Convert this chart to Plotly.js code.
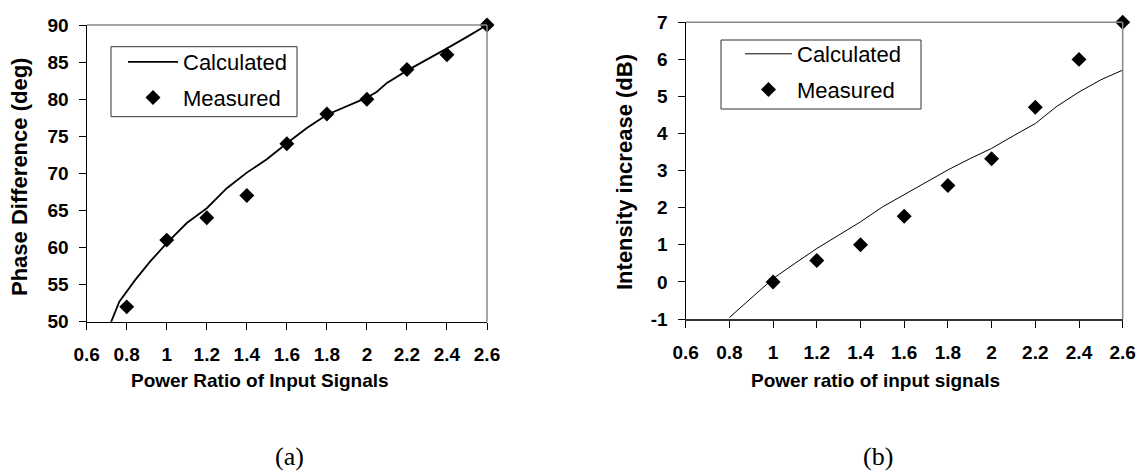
<!DOCTYPE html>
<html>
<head>
<meta charset="utf-8">
<script src="https://cdn.plot.ly/plotly-3.0.1.min.js"></script>
<style>html,body{margin:0;padding:0;background:#fff}#chart{width:1146px;height:473px}</style>
</head>
<body>
<div id="chart"></div>
<script>
// ---- data (a) ----
const calcA_x = [0.712, 0.763, 0.8415, 0.9165, 1.0, 1.1, 1.2, 1.3, 1.4, 1.5, 1.6, 1.7, 1.8, 1.9, 2.0, 2.05, 2.1, 2.2, 2.3, 2.4, 2.5, 2.6];
const calcA_y = [49.3, 52.7, 55.6, 58.1, 60.6, 63.3, 65.3, 68.0, 70.1, 71.9, 74.05, 76.1, 77.9, 79.0, 80.2, 81.0, 82.2, 83.85, 85.3, 86.85, 88.4, 90];
const measA_x = [0.8, 1.0, 1.2, 1.4, 1.6, 1.8, 2.0, 2.2, 2.4, 2.6];
const measA_y = [52, 61, 64, 67, 74, 78, 80, 84, 86, 90];
// ---- data (b) ----
const calcB_x = [0.8, 1.0, 1.1, 1.2, 1.3, 1.4, 1.5, 1.6, 1.7, 1.8, 1.9, 2.0, 2.1, 2.2, 2.3, 2.4, 2.5, 2.6];
const calcB_y = [-0.96, 0.09, 0.5, 0.9, 1.26, 1.62, 2.02, 2.36, 2.7, 3.02, 3.32, 3.6, 3.94, 4.27, 4.74, 5.12, 5.45, 5.71];
const measB_x = [1.0, 1.2, 1.4, 1.6, 1.8, 2.0, 2.2, 2.4, 2.6];
const measB_y = [0, 0.58, 1.0, 1.77, 2.6, 3.32, 4.71, 6.0, 7.0];
// ---- ticks ----
const xTickVals = [0.6, 0.8, 1.0, 1.2, 1.4, 1.6, 1.8, 2.0, 2.2, 2.4, 2.6];
const xTickText = ["0.6", "0.8", "1", "1.2", "1.4", "1.6", "1.8", "2", "2.2", "2.4", "2.6"];
const yTickValsA = [50, 55, 60, 65, 70, 75, 80, 85, 90];
const yTickTextA = ["50", "55", "60", "65", "70", "75", "80", "85", "90"];
const yTickValsB = [-1, 0, 1, 2, 3, 4, 5, 6, 7];
const yTickTextB = ["-1", "0", "1", "2", "3", "4", "5", "6", "7"];
const seriesNames = ["Calculated", "Measured"];

const W = 1146, H = 473;
const px = v => v / W, py = v => 1 - v / H;

const SANS = "Liberation Sans";
const tickFont = {family: SANS, size: 19, color: "#000", weight: "bold"};
const xTitleFont = {family: SANS, size: 19, color: "#000", weight: "bold"};
const yTitleFont = {family: SANS, size: 22, color: "#000", weight: "bold"};
const legFont = {family: SANS, size: 22, color: "#000"};
const serifFont = {family: "Liberation Serif", size: 26, color: "#000"};
const diamond = {symbol: "diamond", size: 11.5, color: "#000"};

const traces = [
  {x: calcA_x, y: calcA_y, xaxis: "x", yaxis: "y", mode: "lines", name: seriesNames[0],
   line: {color: "#000", width: 1.8}, legend: "legend", legendgroup: "a1"},
  {x: measA_x, y: measA_y, xaxis: "x", yaxis: "y", mode: "markers", name: seriesNames[1],
   marker: diamond, cliponaxis: false, legend: "legend", legendgroup: "a2"},
  {x: calcB_x, y: calcB_y, xaxis: "x2", yaxis: "y2", mode: "lines", name: seriesNames[0],
   line: {color: "#000", width: 1}, legend: "legend2", legendgroup: "b1"},
  {x: measB_x, y: measB_y, xaxis: "x2", yaxis: "y2", mode: "markers", name: seriesNames[1],
   marker: diamond, cliponaxis: false, legend: "legend2", legendgroup: "b2"}
];

const xCommon = {
  range: [0.6, 2.6], tickmode: "array", tickvals: xTickVals, ticktext: xTickText,
  ticks: "outside", ticklen: 7, tickwidth: 1, tickcolor: "#000",
  showline: true, linewidth: 1.5, showgrid: false, zeroline: false,
  tickfont: tickFont, ticklabelstandoff: 8, fixedrange: true
};
const yCommon = {
  ticks: "outside", ticklen: 7, tickwidth: 1, tickcolor: "#000", tickmode: "array",
  showline: true, linecolor: "#000", linewidth: 1.2, showgrid: false, zeroline: false,
  tickfont: tickFont, ticklabelstandoff: 6, fixedrange: true
};

const legendCommon = {
  font: legFont, bgcolor: "rgba(0,0,0,0)", borderwidth: 0,
  xanchor: "left", yanchor: "top", traceorder: "grouped", tracegroupgap: 4
};

const layout = {
  width: W, height: H, margin: {l: 0, r: 0, t: 0, b: 0},
  paper_bgcolor: "#fff", plot_bgcolor: "#fff", showlegend: true,
  xaxis: Object.assign({}, xCommon, {domain: [px(86.7), px(487)], anchor: "y", linecolor: "#000"}),
  yaxis: Object.assign({}, yCommon, {domain: [py(321.7), py(25)], anchor: "x", range: [50, 90], tickvals: yTickValsA, ticktext: yTickTextA}),
  xaxis2: Object.assign({}, xCommon, {domain: [px(685.7), px(1122.7)], anchor: "y2", linecolor: "#333", linewidth: 2}),
  yaxis2: Object.assign({}, yCommon, {domain: [py(319), py(22.3)], anchor: "x2", range: [-1, 7], tickvals: yTickValsB, ticktext: yTickTextB}),
  legend: Object.assign({}, legendCommon, {x: px(123), y: py(41), itemwidth: 50}),
  legend2: Object.assign({}, legendCommon, {x: px(740), y: py(33), itemwidth: 47}),
  shapes: [
    {type: "line", xref: "x domain", yref: "y domain", x0: 0, x1: 1, y0: 1, y1: 1, line: {color: "#888", width: 1.5}},
    {type: "line", xref: "x domain", yref: "y domain", x0: 1, x1: 1, y0: 0, y1: 1, line: {color: "#888", width: 1.5}},
    {type: "line", xref: "x2 domain", yref: "y2 domain", x0: 0, x1: 1, y0: 1, y1: 1, line: {color: "#888", width: 1.5}},
    {type: "line", xref: "x2 domain", yref: "y2 domain", x0: 1, x1: 1, y0: 0, y1: 1, line: {color: "#888", width: 1.5}},
    {type: "rect", xref: "paper", yref: "paper", x0: px(111), x1: px(297), y0: py(116.7), y1: py(46.7), line: {color: "#333", width: 1}, fillcolor: "#fff", layer: "above"},
    {type: "rect", xref: "paper", yref: "paper", x0: px(721), x1: px(921), y0: py(109), y1: py(40), line: {color: "#333", width: 1}, fillcolor: "#fff", layer: "above"}
  ],
  annotations: [
    {text: "Power Ratio of Input Signals", xref: "paper", yref: "paper", x: px(260), y: py(380), xanchor: "center", yanchor: "middle", showarrow: false, font: xTitleFont},
    {text: "Phase Difference (deg)", xref: "paper", yref: "paper", x: px(19), y: py(177), xanchor: "center", yanchor: "middle", textangle: -90, showarrow: false, font: yTitleFont},
    {text: "Power ratio of input signals", xref: "paper", yref: "paper", x: px(875), y: py(380), xanchor: "center", yanchor: "middle", showarrow: false, font: xTitleFont},
    {text: "Intensity increase (dB)", xref: "paper", yref: "paper", x: px(624), y: py(172), xanchor: "center", yanchor: "middle", textangle: -90, showarrow: false, font: yTitleFont},
    {text: "(a)", xref: "paper", yref: "paper", x: px(289), y: py(456), xanchor: "center", yanchor: "middle", showarrow: false, font: serifFont},
    {text: "(b)", xref: "paper", yref: "paper", x: px(877.5), y: py(456), xanchor: "center", yanchor: "middle", showarrow: false, font: serifFont}
  ]
};

Plotly.newPlot("chart", traces, layout, {displayModeBar: false, staticPlot: true});
</script>
</body>
</html>
